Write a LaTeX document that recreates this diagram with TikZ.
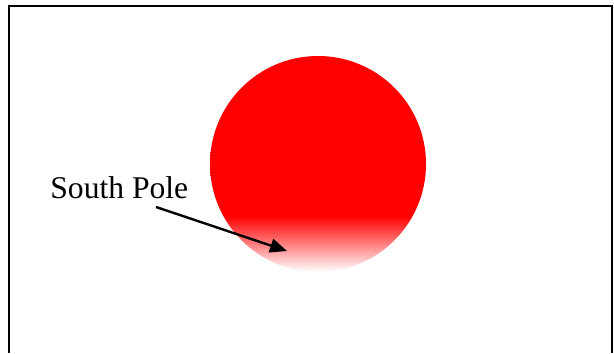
\documentclass[tikz,border=0pt]{standalone}
\usepackage{fontspec}
\setmainfont{Liberation Serif}
\usetikzlibrary{arrows.meta}

% red ball, fading to white towards its lower edge
\pgfdeclareverticalshading{polefade}{100bp}{color(0bp)=(white); color(25bp)=(white); color(38bp)=(red); color(100bp)=(red)}

\begin{document}
\begin{tikzpicture}[x=0.5pt,y=-0.5pt,
    globe/.style={circle, minimum size=108pt, inner sep=0pt, shading=polefade},
    pointer/.style={-{Triangle[length=8.5pt,width=7pt]}, line width=1.2pt}]
    \useasboundingbox (0,0) rectangle (614,353);

    % Frame, open at the bottom
    \draw[line width=1pt] (9,353) |- (612,6) -- (612,353);

    % The ball
    \node[globe] (ball) at (318,164) {};

    % Label and its arrow
    \node[anchor=base west, inner sep=0pt, font=\fontsize{15.8}{19}\selectfont] (label) at (50,198) {South Pole};
    \coordinate (tail) at (156,207);
    \coordinate (tip) at (287,251);
    \draw[pointer] (tail) -- (tip);
\end{tikzpicture}
\end{document}
